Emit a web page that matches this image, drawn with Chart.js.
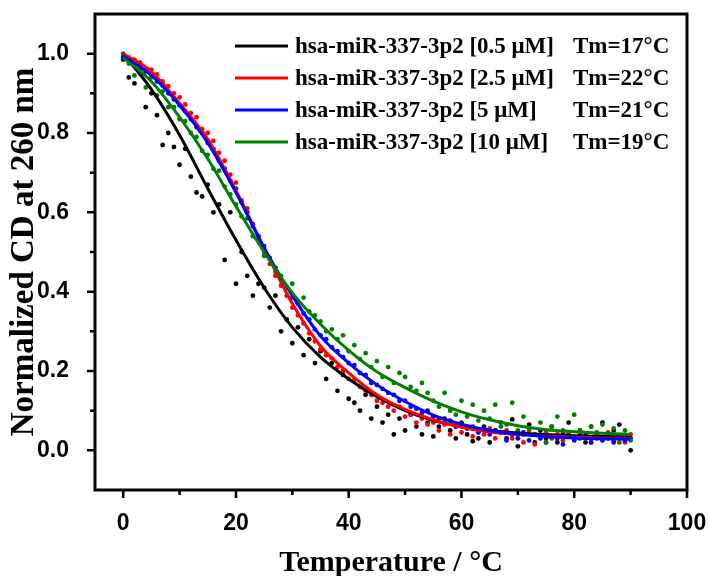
<!DOCTYPE html>
<html>
<head>
<meta charset="utf-8">
<script src="https://cdn.jsdelivr.net/npm/chart.js@4.4.1/dist/chart.umd.min.js"></script>
<style>
  html, body { margin: 0; padding: 0; background: #fff; }
</style>
</head>
<body>
<canvas id="meltChart" width="709" height="576"></canvas>
<script>
// Measured temperatures (°C)
const temps = [
  0, 1, 2, 3, 4, 5, 6, 7, 8, 9, 10, 11, 12, 13, 14, 15, 16, 17, 18, 19,
  20, 21, 22, 23, 24, 25, 26, 27, 28, 29, 30, 31, 32, 33, 34, 35, 36, 37, 38, 39,
  40, 41, 42, 43, 44, 45, 46, 47, 48, 49, 50, 51, 52, 53, 54, 55, 56, 57, 58, 59,
  60, 61, 62, 63, 64, 65, 66, 67, 68, 69, 70, 71, 72, 73, 74, 75, 76, 77, 78, 79,
  80, 81, 82, 83, 84, 85, 86, 87, 88, 89, 90
];

// Normalized CD readings
const cdBlack = [
  0.985, 0.940, 0.925, 0.950, 0.865, 0.900, 0.845, 0.770, 0.800, 0.765,
  0.720, 0.760, 0.690, 0.650, 0.640, 0.670, 0.600, 0.620, 0.480, 0.600,
  0.420, 0.500, 0.440, 0.390, 0.420, 0.410, 0.360, 0.390, 0.300, 0.330,
  0.270, 0.310, 0.240, 0.280, 0.220, 0.250, 0.180, 0.220, 0.150, 0.190,
  0.130, 0.120, 0.100, 0.140, 0.080, 0.110, 0.070, 0.090, 0.040, 0.080,
  0.050, 0.090, 0.060, 0.040, 0.070, 0.035, 0.060, 0.080, 0.050, 0.030,
  0.070, 0.040, 0.023, 0.030, 0.060, 0.020, 0.050, 0.070, 0.030, 0.078,
  0.010, 0.040, 0.065, 0.020, 0.050, 0.030, 0.060, 0.020, 0.040, 0.070,
  0.030, 0.050, 0.020, 0.060, 0.040, 0.070, 0.030, 0.050, 0.065, 0.030,
  0.000
];
const cdRed = [
  0.995, 0.990, 0.985, 0.978, 0.962, 0.960, 0.948, 0.930, 0.918, 0.900,
  0.890, 0.872, 0.850, 0.840, 0.810, 0.800, 0.780, 0.750, 0.730, 0.695,
  0.675, 0.630, 0.610, 0.565, 0.530, 0.500, 0.470, 0.440, 0.415, 0.390,
  0.360, 0.340, 0.320, 0.295, 0.275, 0.255, 0.240, 0.232, 0.210, 0.200,
  0.180, 0.178, 0.160, 0.150, 0.140, 0.125, 0.120, 0.110, 0.100, 0.110,
  0.085, 0.090, 0.070, 0.080, 0.065, 0.070, 0.050, 0.065, 0.040, 0.060,
  0.045, 0.060, 0.035, 0.050, 0.040, 0.055, 0.030, 0.045, 0.050, 0.030,
  0.040, 0.020, 0.050, 0.015, 0.035, 0.045, 0.030, 0.040, 0.025, 0.045,
  0.030, 0.040, 0.035, 0.020, 0.040, 0.030, 0.045, 0.025, 0.035, 0.020,
  0.040
];
const cdBlue = [
  0.990, 0.985, 0.975, 0.970, 0.955, 0.948, 0.930, 0.920, 0.900, 0.885,
  0.870, 0.855, 0.835, 0.815, 0.800, 0.775, 0.760, 0.730, 0.710, 0.680,
  0.660, 0.625, 0.600, 0.570, 0.540, 0.515, 0.485, 0.460, 0.430, 0.410,
  0.385, 0.370, 0.345, 0.330, 0.305, 0.290, 0.280, 0.260, 0.250, 0.235,
  0.220, 0.215, 0.195, 0.190, 0.170, 0.165, 0.155, 0.145, 0.140, 0.125,
  0.125, 0.110, 0.105, 0.095, 0.100, 0.085, 0.080, 0.070, 0.075, 0.060,
  0.065, 0.055, 0.060, 0.045, 0.055, 0.040, 0.050, 0.045, 0.025, 0.040,
  0.030, 0.045, 0.025, 0.040, 0.030, 0.020, 0.035, 0.030, 0.015, 0.035,
  0.025, 0.030, 0.040, 0.020, 0.030, 0.025, 0.035, 0.020, 0.030, 0.025,
  0.030
];
const cdGreen = [
  1.000, 0.975, 0.945, 0.960, 0.915, 0.940, 0.895, 0.905, 0.865, 0.865,
  0.835, 0.830, 0.800, 0.790, 0.755, 0.745, 0.710, 0.705, 0.665, 0.645,
  0.620, 0.590, 0.585, 0.540, 0.530, 0.490, 0.485, 0.450, 0.440, 0.410,
  0.420, 0.370, 0.385, 0.350, 0.340, 0.325, 0.300, 0.305, 0.280, 0.290,
  0.250, 0.265, 0.230, 0.245, 0.210, 0.225, 0.185, 0.210, 0.170, 0.195,
  0.185, 0.160, 0.150, 0.170, 0.145, 0.125, 0.110, 0.145, 0.100, 0.090,
  0.125, 0.085, 0.115, 0.075, 0.100, 0.080, 0.115, 0.060, 0.065, 0.120,
  0.050, 0.085, 0.055, 0.040, 0.070, 0.020, 0.060, 0.085, 0.050, 0.040,
  0.090, 0.050, 0.030, 0.060, 0.045, 0.065, 0.040, 0.055, 0.020, 0.050,
  0.025
];

// Fitted curves, sampled every 5 °C
const fitTemps = [0, 5, 10, 15, 20, 25, 30, 35, 40, 45, 50, 55, 60, 65, 70, 75, 80, 85, 90];
const fitBlack = [1.000, 0.910, 0.795, 0.660, 0.530, 0.410, 0.310, 0.235, 0.180, 0.135, 0.100, 0.075, 0.060, 0.050, 0.044, 0.040, 0.037, 0.035, 0.034];
const fitRed   = [1.000, 0.955, 0.875, 0.785, 0.655, 0.510, 0.370, 0.263, 0.195, 0.140, 0.103, 0.077, 0.058, 0.046, 0.040, 0.036, 0.033, 0.031, 0.030];
const fitBlue  = [0.995, 0.945, 0.870, 0.775, 0.650, 0.510, 0.390, 0.288, 0.220, 0.165, 0.123, 0.089, 0.066, 0.050, 0.041, 0.035, 0.031, 0.029, 0.028];
const fitGreen = [0.990, 0.930, 0.840, 0.735, 0.615, 0.500, 0.397, 0.318, 0.252, 0.198, 0.158, 0.124, 0.097, 0.077, 0.062, 0.052, 0.047, 0.043, 0.040];

const seriesNames = ['hsa-miR-337-3p2 [0.5 μM]', 'hsa-miR-337-3p2 [2.5 μM]', 'hsa-miR-337-3p2 [5 μM]', 'hsa-miR-337-3p2 [10 μM]'];
const tmLabels = ['Tm=17°C', 'Tm=22°C', 'Tm=21°C', 'Tm=19°C'];
const seriesColors = ['#000000', '#ff0000', '#0000ff', '#008000'];

// Axis ticks
const xTicks = [0, 20, 40, 60, 80, 100];
const xMinorTicks = [10, 30, 50, 70, 90];
const yTicks = [0.0, 0.2, 0.4, 0.6, 0.8, 1.0];
const yMinorTicks = [0.1, 0.3, 0.5, 0.7, 0.9];

function toPoints(xs, ys) {
    return xs.map((x, i) => ({ x: x, y: ys[i] }));
}

const cdSets = [cdBlack, cdRed, cdBlue, cdGreen];
const fitSets = [fitBlack, fitRed, fitBlue, fitGreen];

const datasets = [];
// fit lines on top, green drawn last
[3, 2, 1, 0].forEach(i => {
    datasets.push({
        label: seriesNames[i] + ' fit',
        data: toPoints(fitTemps, fitSets[i]),
        showLine: true,
        borderColor: seriesColors[i],
        borderWidth: 3,
        pointRadius: 0,
        cubicInterpolationMode: 'monotone',
        order: 0
    });
});
[3, 2, 1, 0].forEach(i => {
    datasets.push({
        label: seriesNames[i],
        data: toPoints(temps, cdSets[i]),
        showLine: false,
        backgroundColor: seriesColors[i],
        borderWidth: 0,
        pointRadius: 2.4,
        order: 1
    });
});

// Box frame plus major/minor outward ticks
const frameTicks = {
    id: 'frameTicks',
    afterDatasetsDraw(chart) {
        const { ctx, chartArea: a, scales: { x, y } } = chart;
        ctx.save();
        ctx.strokeStyle = '#000';
        ctx.lineWidth = 3;
        ctx.strokeRect(a.left, a.top, a.right - a.left, a.bottom - a.top);
        ctx.lineWidth = 2.5;
        ctx.beginPath();
        xTicks.forEach(v => {
            const px = x.getPixelForValue(v);
            ctx.moveTo(px, a.bottom); ctx.lineTo(px, a.bottom + 8);
        });
        xMinorTicks.forEach(v => {
            const px = x.getPixelForValue(v);
            ctx.moveTo(px, a.bottom); ctx.lineTo(px, a.bottom + 5);
        });
        yTicks.forEach(v => {
            const py = y.getPixelForValue(v);
            ctx.moveTo(a.left, py); ctx.lineTo(a.left - 8, py);
        });
        yMinorTicks.forEach(v => {
            const py = y.getPixelForValue(v);
            ctx.moveTo(a.left, py); ctx.lineTo(a.left - 5, py);
        });
        ctx.stroke();
        ctx.restore();
    }
};

// Legend with aligned Tm column
const legendBox = {
    id: 'legendBox',
    afterDraw(chart) {
        const ctx = chart.ctx;
        ctx.save();
        ctx.font = 'bold 23px "Liberation Serif"';
        ctx.textBaseline = 'middle';
        seriesNames.forEach((name, i) => {
            const ly = 46 + i * 32;
            ctx.strokeStyle = seriesColors[i];
            ctx.lineWidth = 3;
            ctx.beginPath();
            ctx.moveTo(235, ly);
            ctx.lineTo(288, ly);
            ctx.stroke();
            ctx.fillStyle = '#000';
            ctx.fillText(name, 295, ly + 1);
            ctx.fillText(tmLabels[i], 573, ly + 1);
        });
        ctx.restore();
    }
};

const ctx = document.getElementById('meltChart').getContext('2d');
new Chart(ctx, {
    type: 'scatter',
    data: { datasets: datasets },
    plugins: [frameTicks, legendBox],
    options: {
        responsive: false,
        animation: false,
        layout: { padding: { top: 14, right: 22, left: 0, bottom: 0 } },
        plugins: {
            legend: { display: false },
            tooltip: { enabled: false }
        },
        scales: {
            x: {
                type: 'linear',
                min: -5,
                max: 100,
                afterFit: function(scale) {
                    scale.height = 86;
                    scale.paddingLeft = 0;
                    scale.paddingRight = 0;
                },
                afterBuildTicks: function(scale) {
                    scale.ticks = xTicks.map(v => ({ value: v }));
                },
                grid: { display: false },
                border: { display: false },
                ticks: {
                    color: '#000',
                    padding: 12,
                    maxRotation: 0,
                    font: { family: '"Liberation Sans", Arial', size: 23, weight: 'bold' }
                },
                title: {
                    display: true,
                    text: 'Temperature / °C',
                    color: '#000',
                    padding: 0,
                    font: { family: '"Liberation Serif", "Times New Roman"', size: 30, weight: 'bold', lineHeight: 0.85 }
                }
            },
            y: {
                type: 'linear',
                min: -0.1,
                max: 1.1,
                afterFit: function(scale) {
                    scale.width = 95;
                    scale.paddingTop = 0;
                    scale.paddingBottom = 0;
                },
                afterBuildTicks: function(scale) {
                    scale.ticks = yTicks.map(v => ({ value: v }));
                },
                grid: { display: false },
                border: { display: false },
                ticks: {
                    color: '#000',
                    padding: 18,
                    callback: function(value) { return value.toFixed(1); },
                    font: { family: '"Liberation Sans", Arial', size: 23, weight: 'bold' }
                },
                title: {
                    display: true,
                    text: 'Normalized CD at 260 nm',
                    color: '#000',
                    padding: { top: 8, bottom: 0 },
                    font: { family: '"Liberation Serif", "Times New Roman"', size: 33, weight: 'bold', lineHeight: 1 }
                }
            }
        }
    }
});
</script>
</body>
</html>
